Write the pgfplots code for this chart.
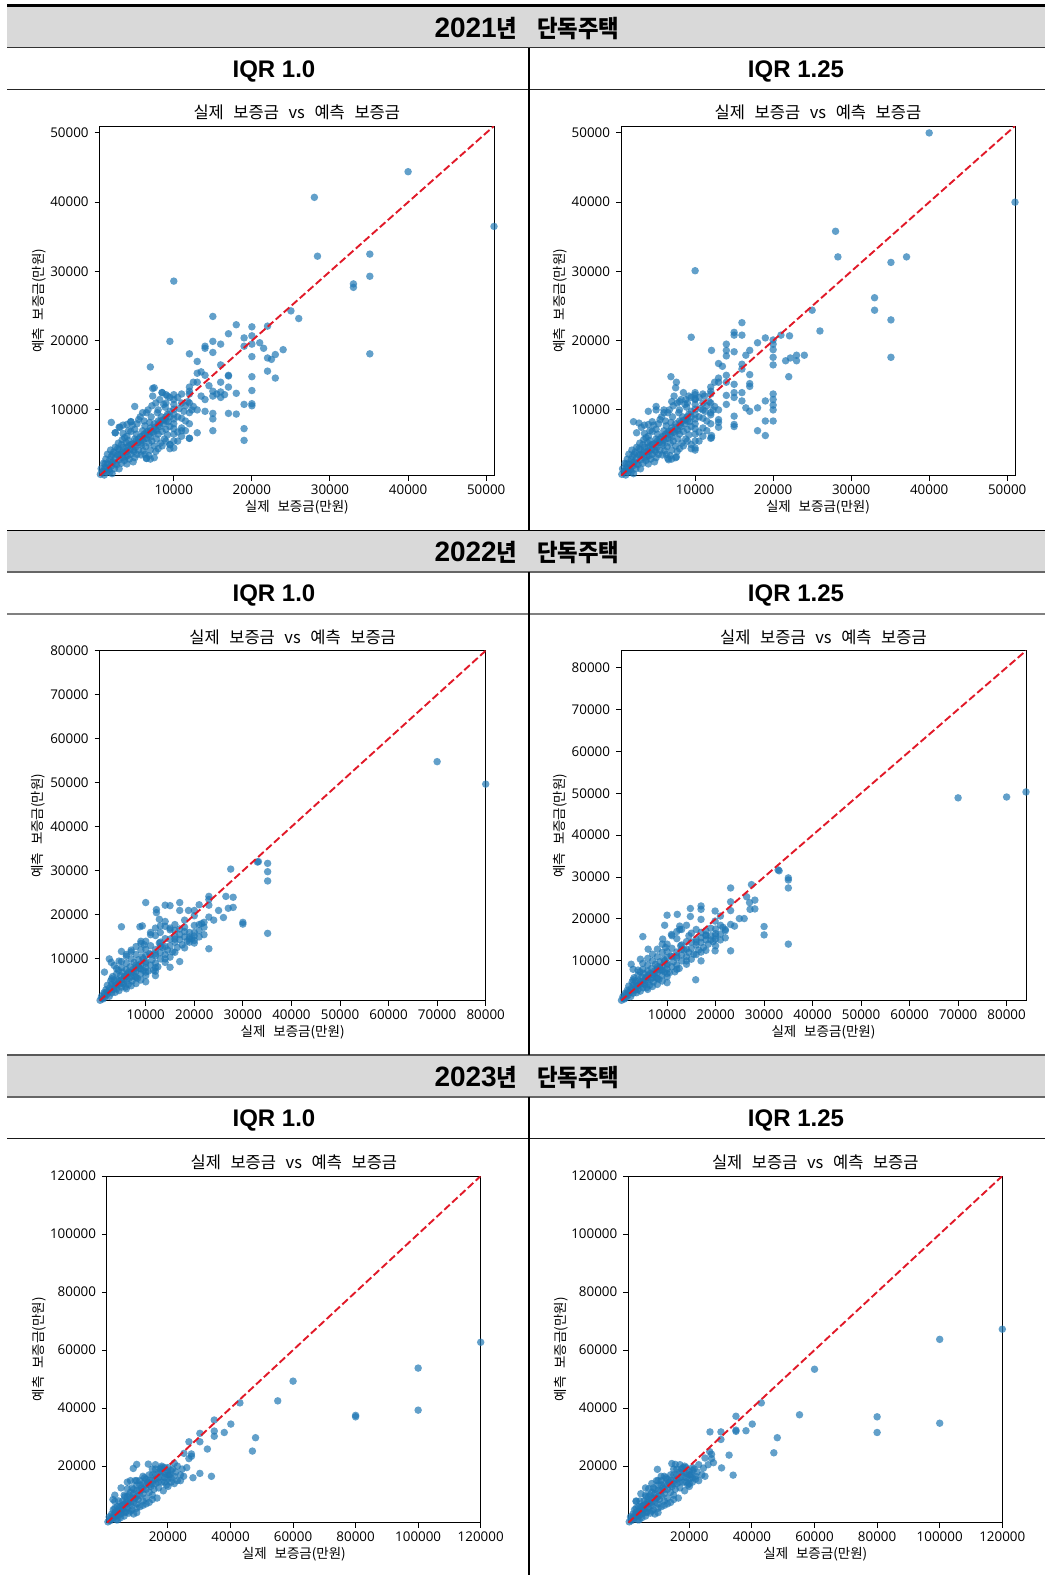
\documentclass[border=0pt]{standalone}
\usepackage{pgfplots}
\pgfplotsset{compat=1.18}
\usepackage{pgfplotstable}
\usepackage{fontspec}
\setmainfont{Open Sans}
\newfontfamily\kr{Noto Sans CJK KR}[WordSpace=2.6]
\newfontfamily\krb{Noto Sans CJK KR}[FakeStretch=0.93]
\newfontfamily\lsb{Liberation Sans}
\definecolor{mplblue}{HTML}{1F77B4}
\definecolor{diagred}{RGB}{225,25,40}
\definecolor{band}{HTML}{D9D9D9}

\pgfplotsset{
 sc/.style={
  scale only axis, clip mode=individual,
  axis line style={line width=1pt, black},
  tick align=outside, tick pos=left,
  major tick length=5pt,
  tick style={line width=1pt, black},
  scaled ticks=false,
  /pgf/number format/fixed, /pgf/number format/1000 sep={}, /pgf/number format/assume math mode=true,
  tick label style={font=\fontsize{13.4}{15}\selectfont},
  xticklabel style={anchor=base, inner sep=0pt, yshift=-13.8pt},
  yticklabel style={anchor=east, inner sep=0pt, xshift=-5.8pt},
 },
 dot/.style={only marks, mark=*, mark size=3.75pt, mark options={draw opacity=0, fill=mplblue, fill opacity=0.7}},
 diag/.style={no marks, diagred, line width=1.9pt, dash pattern=on 7.5pt off 3.2pt},
}

\newcommand{\labs}[1]{%
 \node[anchor=base, inner sep=0pt, font=\fontsize{16.5}{18}\kr] at ([yshift=7.5pt]axis description cs:0.5,1) {실제 보증금 vs 예측 보증금};%
 \node[anchor=base, inner sep=0pt, font=\fontsize{13.5}{15}\kr] at ([yshift=-36pt]axis description cs:0.5,0) {실제 보증금(만원)};%
 \node[anchor=base, inner sep=0pt, rotate=90, font=\fontsize{13.5}{15}\kr] at ([xshift=-#1pt]axis description cs:0,0.5) {예측 보증금(만원)};%
}
\newcommand{\YearHdr}[3]{\node[anchor=base, inner sep=0pt] at (#1pt,-#2pt) {\fontsize{28}{32}\selectfont\lsb\bfseries #3\fontsize{24}{28}\selectfont\krb\bfseries 년\hspace{20pt}단독주택};}
\newcommand{\IqrHdr}[3]{\node[anchor=base, inner sep=0pt] at (#1pt,-#2pt) {\fontsize{24}{28}\selectfont\lsb\bfseries #3};}

% ---------- 2021 cluster ----------
\pgfplotstableread[row sep=\\]{x y\\
600 700\\ 700 1500\\ 900 1100\\ 1000 2300\\ 1100 600\\ 1200 1700\\ 1300 2900\\ 1400 1000\\ 1500 2200\\ 1500 3600\\
1700 1400\\ 1800 2800\\ 1900 4200\\ 2000 1900\\ 2000 3300\\ 2100 800\\ 2200 2500\\ 2300 3900\\ 2400 1500\\ 2500 3000\\ 2500 4600\\ 2500 6700\\
2700 2100\\ 2800 3500\\ 2900 5200\\ 3000 1500\\ 3000 2800\\ 3000 4300\\ 3100 7500\\ 3200 3600\\ 3300 2300\\ 3400 5700\\ 3500 3100\\ 3500 4600\\ 3500 7800\\ 3500 6600\\
3700 2700\\ 3800 3900\\ 3900 5300\\ 4000 2200\\ 4000 4600\\ 4000 6200\\ 4000 7900\\ 4100 3400\\ 4200 5600\\ 4300 2900\\ 4400 4300\\ 4500 6900\\ 4500 3600\\ 4500 8300\\
4700 5100\\ 4800 2500\\ 4900 4000\\ 5000 3100\\ 5000 5800\\ 5000 7200\\ 5000 10500\\ 5100 4600\\ 5200 6500\\ 5300 3600\\ 5400 5300\\ 5500 8600\\ 5500 4200\\
5700 6100\\ 5800 3500\\ 5900 4900\\ 6000 7000\\ 6000 9600\\ 6000 5600\\ 6100 4100\\ 6200 6500\\ 6300 7700\\ 6400 4700\\ 6500 5900\\ 6500 9600\\ 6500 3000\\
6700 6900\\ 6800 5200\\ 6900 8200\\ 7000 4200\\ 7000 6100\\ 7000 7400\\ 7000 2900\\ 7100 9000\\ 7200 5500\\ 7300 12000\\ 7400 6700\\ 7500 4800\\ 7500 8000\\ 7500 13200\\ 7500 3100\\
7700 7200\\ 7800 5800\\ 7900 9600\\ 8000 4400\\ 8000 6500\\ 8000 8400\\ 8000 10000\\ 8200 7600\\ 8300 5200\\ 8400 9000\\ 8500 6900\\ 8500 12500\\
8700 8000\\ 8800 5800\\ 8900 10400\\ 9000 7200\\ 9000 9000\\ 9000 11000\\ 9200 6400\\ 9300 8300\\ 9500 4400\\ 9500 5000\\ 9500 7600\\ 9500 9800\\ 9500 11800\\
10000 4500\\ 10000 5500\\ 10000 6500\\ 10000 7300\\ 10000 8000\\ 10000 8700\\ 10000 9400\\ 10000 10100\\ 10000 10800\\ 10000 11500\\ 10000 12200\\
10500 6800\\ 10500 9000\\ 10700 10200\\ 11000 7400\\ 11000 8800\\ 11000 12300\\ 11300 9800\\ 11500 10600\\ 11500 8400\\ 11800 11200\\ 12000 5900\\ 12000 8000\\ 12000 9600\\ 12000 11000\\ 12000 12300\\ 12000 12700\\ 12300 10000\\ 12500 10500\\ 12500 14000\\
3000 3500\\ 3500 4000\\ 4000 4000\\ 4500 5000\\ 5000 5000\\ 5500 5800\\ 6000 6200\\ 6500 6800\\ 7000 7000\\ 7500 7500\\ 8000 7800\\ 8500 8500\\ 9000 8400\\ 9500 9000\\ 4200 4800\\ 5200 5600\\ 6200 5800\\ 7200 6800\\ 8200 8200\\ 9200 9400\\ 2000 2400\\ 2500 2200\\ 1500 1600\\ 1000 1200\\ 3800 3200\\ 4800 4200\\ 5800 5200\\ 6800 6400\\ 7800 7000\\ 8800 8600\\
1200 2200\\ 1800 1000\\ 2200 3600\\ 2800 4400\\ 3300 5000\\ 3700 6000\\ 4200 7000\\ 4700 7800\\ 5300 8000\\ 5700 9000\\ 6200 8400\\ 6700 10000\\ 7200 10600\\ 7700 11000\\ 8200 11500\\ 8700 10800\\ 9200 12000\\ 6300 3600\\ 6800 3400\\ 7700 4000\\ 8500 4800\\ 9000 5500\\ 10500 5500\\ 11000 6200\\ 11500 7000\\ 10500 11800\\ 11000 11000\\ 12000 13300\\
}\clA

\pgfplotstableread[row sep=\\]{x y\\
40000 44400\\ 28000 40700\\ 51000 36500\\ 28400 32200\\ 35100 32500\\ 35100 29300\\ 33000 28200\\ 33000 27700\\ 10000 28600\\ 35100 18100\\ 25000 24300\\ 26000 23200\\ 15000 23500\\ 18000 22300\\ 20000 22000\\ 22000 22100\\ 17000 21000\\ 19000 20400\\ 9500 19900\\ 15000 19900\\ 16000 19500\\ 20000 19500\\ 20000 20700\\ 14000 19200\\ 14000 18900\\ 19000 19200\\ 21000 19700\\ 21500 18900\\ 22000 17500\\ 22500 17300\\ 23000 18000\\ 24000 18700\\ 20000 17700\\ 15000 18300\\ 12000 18100\\ 7000 16200\\ 13000 17000\\ 16000 16500\\ 22000 15600\\ 23000 14600\\ 20000 14800\\ 17000 15000\\ 17000 14900\\ 18000 12400\\ 17000 13300\\ 16000 14000\\ 20000 12800\\ 19000 10800\\ 20000 10900\\ 20000 10600\\ 19000 7300\\ 19000 5600\\ 15000 7000\\ 17000 9500\\ 18000 9400\\ 13000 6700\\ 12000 5900\\ 15000 9500\\ 15000 8700\\ 14000 11500\\ 15000 12000\\ 15000 12700\\ 15500 12300\\ 16000 12600\\ 14000 15000\\ 13000 15300\\ 13500 15500\\ 13000 14000\\ 13000 10000\\ 13500 12000\\ 14000 9800\\ 16000 11800\\ 16500 12200\\ 14500 13500\\ 8500 12500\\ 7300 13100\\ 2000 8200\\ 2500 6700\\ 3000 7500\\ 4500 8300\\ 6500 3000\\ 9500 5000\\ 9000 12200\\ 11000 7000\\
}\oA

\pgfplotstableread[row sep=\\]{x y\\
40000 50000\\ 51000 40000\\ 28000 35800\\ 28300 32100\\ 35100 31300\\ 37100 32100\\ 10000 30100\\ 33000 26200\\ 33000 24400\\ 35100 23000\\ 35100 17600\\ 25000 24400\\ 26000 21400\\ 16000 22600\\ 9500 20500\\ 15000 21200\\ 15000 20800\\ 16000 20800\\ 18000 19700\\ 19000 20400\\ 20000 20100\\ 20000 19500\\ 20000 18700\\ 21000 20800\\ 22100 20700\\ 14000 19500\\ 14000 18600\\ 14000 17800\\ 12100 18600\\ 15000 18400\\ 16500 17900\\ 17000 18600\\ 20000 17600\\ 20000 16500\\ 21600 17100\\ 22200 17500\\ 23000 17100\\ 23000 17900\\ 24000 17900\\ 22000 14800\\ 6900 14800\\ 7600 14000\\ 13000 16700\\ 13500 16300\\ 16000 16600\\ 16000 15900\\ 17000 15100\\ 17000 13800\\ 17000 13400\\ 13000 14600\\ 13000 14000\\ 14000 15000\\ 14000 14000\\ 15000 13700\\ 15000 12500\\ 14000 12100\\ 14000 10800\\ 15000 11800\\ 16000 12500\\ 16000 11300\\ 18000 10300\\ 19000 11300\\ 20000 12300\\ 20000 11500\\ 20000 10700\\ 20000 10000\\ 19000 8400\\ 20000 8400\\ 18000 7000\\ 19000 6300\\ 15000 9100\\ 15000 7900\\ 15000 7600\\ 12100 6000\\ 12100 6300\\ 13000 7500\\ 17000 9800\\ 16500 10300\\ 11000 10000\\ 12000 9300\\ 13000 10000\\ 13000 8600\\ 13000 8200\\ 8000 11200\\ 7000 11200\\ 8800 11500\\ 10000 12500\\ 10000 11600\\ 11200 12000\\ 10000 4200\\ 4000 9800\\ 5000 10000\\ 6000 10000\\ 2100 8300\\ 2800 8100\\ 6600 2800\\ 7600 3200\\
}\oB

% ---------- 2022 cluster ----------
\pgfplotstableread[row sep=\\]{x y\\
600 600\\ 900 1500\\ 1200 900\\ 1400 2300\\ 1600 1300\\ 1800 3000\\ 2000 1900\\ 2100 4000\\ 2300 2500\\ 2500 1500\\ 2600 3400\\ 2800 5000\\ 3000 2300\\ 3000 4200\\ 3200 6000\\ 3400 3100\\ 3500 5200\\ 3700 2400\\ 3800 4000\\ 4000 6600\\ 4000 3200\\ 4200 5200\\ 4400 7400\\ 4500 2800\\ 4600 4400\\ 4800 6200\\ 5000 3600\\ 5000 5200\\ 5000 8000\\ 5200 7000\\ 5400 4400\\ 5600 6000\\ 5800 3600\\ 6000 5000\\ 6000 7600\\ 6000 9000\\ 6200 6600\\ 6400 4200\\ 6600 5600\\ 6800 8200\\ 7000 3900\\ 7000 6800\\ 7000 10000\\ 7200 5000\\ 7400 7600\\ 7600 9200\\ 7800 6000\\ 8000 4400\\ 8000 7200\\ 8000 8600\\ 8000 11000\\ 8300 5600\\ 8500 9800\\ 8700 7800\\ 9000 5200\\ 9000 6600\\ 9000 8900\\ 9000 12000\\ 9300 10400\\ 9500 7400\\ 9700 13200\\ 10000 4800\\ 10000 6200\\ 10000 8000\\ 10000 9400\\ 10000 10800\\ 10000 12200\\ 10000 14000\\ 10500 7200\\ 10800 11200\\ 11000 8600\\ 11000 13000\\ 11300 9800\\ 11600 7400\\ 12000 9000\\ 12000 10700\\ 12000 12100\\ 12000 15300\\ 12500 8200\\ 12800 13600\\ 13000 10000\\ 13000 11400\\ 13500 12600\\ 14000 9200\\ 14000 11000\\ 14000 14600\\ 14500 12000\\ 15000 10400\\ 15000 13000\\ 15000 16600\\ 15500 11600\\ 16000 13800\\ 16000 15200\\ 16500 12600\\ 17000 14400\\ 17000 16800\\ 17500 13200\\ 18000 15000\\ 18000 17200\\ 18500 14000\\ 19000 16000\\ 19500 14600\\ 20000 13600\\ 20000 15200\\ 20000 17600\\ 21000 16400\\ 21500 18000\\ 22000 17200\\ 22000 15500\\
2000 2500\\ 3000 3000\\ 4000 4200\\ 5000 4500\\ 6000 6000\\ 7000 6000\\ 8000 8000\\ 9000 7800\\ 10000 9000\\ 11000 11000\\ 12000 11200\\ 13000 12800\\ 14000 12800\\ 15000 14500\\ 16000 14500\\ 17000 15500\\ 18000 16200\\ 3500 3800\\ 4500 5000\\ 5500 5400\\ 6500 7000\\ 7500 7000\\ 8500 8400\\ 9500 10000\\ 1000 1000\\ 1500 2000\\
3000 5500\\ 4000 7800\\ 5000 9400\\ 6000 10600\\ 7000 11600\\ 8000 12800\\ 9000 14000\\ 11000 16000\\ 12000 17000\\ 13000 17500\\ 14000 18500\\ 6000 3200\\ 8000 5800\\ 10000 7000\\ 12000 8000\\ 14000 10000\\ 16000 11500\\ 18000 12500\\ 19000 15000\\ 20000 16000\\ 21000 15000\\ 13000 13800\\
}\clB

\pgfplotstableread[row sep=\\]{x y\\
70000 54800\\ 80000 49700\\ 33000 32000\\ 33200 32100\\ 35100 31700\\ 35100 29800\\ 35100 27700\\ 35100 15800\\ 27500 30400\\ 26500 24200\\ 28000 24000\\ 23000 24200\\ 23000 23500\\ 10000 22800\\ 14000 22200\\ 15000 22100\\ 12200 21200\\ 12200 20500\\ 17000 22800\\ 17000 21000\\ 18800 21000\\ 20000 21000\\ 21000 22300\\ 23000 22200\\ 25000 21000\\ 27000 21500\\ 28000 21700\\ 26000 19400\\ 23000 19500\\ 24000 18800\\ 20000 19800\\ 30000 18300\\ 30000 17900\\ 5000 17300\\ 8800 17300\\ 9300 17500\\ 12800 19000\\ 15000 17000\\ 16000 16500\\ 23000 12300\\ 17000 9400\\ 15000 8100\\ 12000 6200\\ 12000 7200\\ 5000 11700\\ 2900 9200\\ 2500 10000\\ 1500 7000\\ 19000 14500\\ 19000 13800\\ 20000 14200\\ 21000 17800\\ 22000 18300\\ 18000 18800\\ 16000 17800\\ 14000 17400\\ 13000 16000\\ 11000 15500\\ 9000 13500\\ 7000 12000\\ 6000 11000\\ 4500 9500\\ 3500 8500\\
}\oC

\pgfplotstableread[row sep=\\]{x y\\
70000 48900\\ 80000 49100\\ 84000 50300\\ 32900 31700\\ 33100 31500\\ 35000 29800\\ 35000 29300\\ 35000 27400\\ 35000 14000\\ 30000 18200\\ 30000 16200\\ 27400 28200\\ 23100 27400\\ 23100 24100\\ 23100 22000\\ 26400 25300\\ 27000 23900\\ 28100 24500\\ 27100 22300\\ 28100 22400\\ 24900 20100\\ 25900 20100\\ 23900 18300\\ 23100 18700\\ 21000 20700\\ 19900 19500\\ 19900 21900\\ 17000 23100\\ 17000 22300\\ 17000 19900\\ 14800 22500\\ 14800 20600\\ 12100 21100\\ 10000 20900\\ 12600 18300\\ 12600 17500\\ 10900 16300\\ 9500 18500\\ 9100 15200\\ 5000 15800\\ 19900 12400\\ 23100 12400\\ 17000 12100\\ 17000 10000\\ 15900 5500\\ 4500 10400\\ 2600 9200\\ 6100 12800\\ 3000 8000\\ 18000 16000\\ 19000 17800\\ 20000 16500\\ 21000 18500\\ 22000 17500\\ 16000 17500\\ 14500 16000\\
}\oD

% ---------- 2023 cluster ----------
\pgfplotstableread[row sep=\\]{x y\\
800 800\\ 1200 2500\\ 1500 1200\\ 2000 3500\\ 2200 1800\\ 2500 5000\\ 3000 2500\\ 3000 7800\\ 3200 4200\\ 3500 1500\\ 3800 6000\\ 4000 3000\\ 4200 8000\\ 4500 4500\\ 4800 2200\\ 5000 6200\\ 5000 3600\\ 5500 8000\\ 5500 5000\\ 6000 2800\\ 6000 6800\\ 6200 9500\\ 6500 4200\\ 7000 7800\\ 7000 5600\\ 7000 12200\\ 7500 3800\\ 7500 10000\\ 8000 6500\\ 8000 8800\\ 8500 5000\\ 8500 12500\\ 9000 7500\\ 9000 10500\\ 9000 3500\\ 9500 9000\\ 9500 15000\\ 10000 5500\\ 10000 7000\\ 10000 11500\\ 10000 13500\\ 10500 8500\\ 11000 10000\\ 11000 6000\\ 11000 15000\\ 11500 12500\\ 12000 8000\\ 12000 14000\\ 12000 10500\\ 12500 16000\\ 13000 9000\\ 13000 12000\\ 13500 14500\\ 14000 7500\\ 14000 11000\\ 14000 17000\\ 14500 13000\\ 15000 10000\\ 15000 15000\\ 15000 19000\\ 15500 12000\\ 16000 14000\\ 16000 17000\\ 16500 9000\\ 17000 12500\\ 17000 16000\\ 17500 19000\\ 18000 14500\\ 18000 18000\\ 18500 11500\\ 19000 16000\\ 19000 19500\\ 19500 13500\\ 20000 15500\\ 20000 18000\\ 20500 17000\\ 21000 14500\\ 21500 19000\\ 22000 16500\\ 22500 18000\\ 23000 15000\\ 24000 17000\\ 25000 16500\\
2000 2000\\ 3000 3500\\ 4000 4500\\ 5000 5000\\ 6000 5500\\ 7000 7000\\ 8000 7500\\ 9000 9000\\ 10000 9500\\ 11000 11500\\ 12000 12000\\ 13000 13500\\ 14000 13500\\ 15000 14000\\ 16000 15500\\ 17000 14500\\ 18000 16500\\ 19000 17500\\ 20000 17000\\ 21000 16000\\ 1500 2000\\ 2500 3000\\ 3500 3000\\ 4500 6000\\ 5500 6500\\ 6500 7500\\
6000 10000\\ 7000 9500\\ 8000 11000\\ 9000 12000\\ 10000 15000\\ 11000 13500\\ 12000 16500\\ 13000 15500\\ 14000 15000\\ 15000 17000\\ 16000 19000\\ 17000 18000\\ 18000 19500\\ 19000 14500\\ 20000 13000\\ 21000 18500\\ 8000 4500\\ 10000 4000\\ 12000 6500\\ 13000 7000\\ 15000 8500\\ 4000 1500\\ 6000 4000\\ 3000 5500\\
}\clC

\pgfplotstableread[row sep=\\]{x y\\
120000 62700\\ 100000 53800\\ 100000 39300\\ 80000 37500\\ 80000 37000\\ 60000 49300\\ 55100 42500\\ 43000 41800\\ 48000 29800\\ 47000 25200\\ 40100 34500\\ 38000 31600\\ 34800 35900\\ 34800 32100\\ 34800 30300\\ 32600 25900\\ 30200 31300\\ 30200 28400\\ 26700 28400\\ 30200 17500\\ 33900 16500\\ 26700 22600\\ 27500 23400\\ 25100 24400\\ 27500 24200\\ 24500 19000\\ 26000 19500\\ 23000 20000\\ 22000 21000\\ 20000 19500\\ 13700 20700\\ 10000 20600\\ 8900 19200\\ 2400 8500\\ 3000 10000\\ 5000 12500\\ 7000 14500\\ 8000 15000\\ 16000 20500\\ 18000 20000\\ 28000 16000\\ 22000 14000\\ 24000 15000\\
}\oE

\pgfplotstableread[row sep=\\]{x y\\
120000 67200\\ 100000 63700\\ 100000 34800\\ 80000 37000\\ 80000 31600\\ 60000 53400\\ 55200 37700\\ 43000 41800\\ 48100 29800\\ 47000 24600\\ 40100 34500\\ 38100 32200\\ 34900 37200\\ 34900 32400\\ 34900 32000\\ 32700 23800\\ 30100 31800\\ 30100 29200\\ 26600 31800\\ 30300 19400\\ 34000 16900\\ 27100 24100\\ 27100 22600\\ 27700 21200\\ 25000 22800\\ 26500 25000\\ 24500 19300\\ 23000 20500\\ 21000 19500\\ 9800 18900\\ 14400 20900\\ 15500 20600\\ 17000 20500\\ 18500 20000\\ 3000 8000\\ 4500 10500\\ 6000 12500\\ 8000 14000\\ 11000 16500\\ 20000 14000\\ 22000 15500\\ 26000 20500\\
}\oF

\begin{document}
\begin{tikzpicture}
\useasboundingbox (0,0) rectangle (1045pt,-1575pt);
% header bands
\fill[band] (7pt,-7pt) rectangle (1045pt,-47.5pt);
\fill[band] (7pt,-530.5pt) rectangle (1045pt,-571.5pt);
\fill[band] (7pt,-1055pt) rectangle (1045pt,-1096.5pt);
% horizontal rules
\draw[line width=3pt] (7pt,-5.5pt) -- (1045pt,-5.5pt);
\draw[line width=1.5pt, black!80] (7pt,-47.5pt) -- (1045pt,-47.5pt);
\draw[line width=1.5pt, black!85] (7pt,-89.5pt) -- (1045pt,-89.5pt);
\draw[line width=1pt] (7pt,-530.5pt) -- (1045pt,-530.5pt);
\draw[line width=2pt, black!60] (7pt,-571.5pt) -- (1045pt,-571.5pt);
\draw[line width=2pt, black!50] (7pt,-614pt) -- (1045pt,-614pt);
\draw[line width=2pt, black!65] (7pt,-1055pt) -- (1045pt,-1055pt);
\draw[line width=2pt, black!60] (7pt,-1096.5pt) -- (1045pt,-1096.5pt);
\draw[line width=1.5pt, black!90] (7pt,-1138.7pt) -- (1045pt,-1138.7pt);
% vertical divider
\draw[line width=1.5pt] (529pt,-47.5pt) -- (529pt,-530.5pt);
\draw[line width=1.5pt] (529pt,-571.5pt) -- (529pt,-1055pt);
\draw[line width=1.5pt] (529pt,-1096.5pt) -- (529pt,-1575pt);
% headers
\YearHdr{527}{37.2}{2021}
\YearHdr{527}{561.5}{2022}
\YearHdr{527}{1086}{2023}
\IqrHdr{274}{77}{IQR 1.0}
\IqrHdr{796}{77}{IQR 1.25}
\IqrHdr{274}{601.5}{IQR 1.0}
\IqrHdr{796}{601.5}{IQR 1.25}
\IqrHdr{274}{1126}{IQR 1.0}
\IqrHdr{796}{1126}{IQR 1.25}

% ---- 2021 IQR 1.0
\begin{axis}[sc, at={(99.6pt,-475.7pt)}, anchor=south west, width=394.4pt, height=349.7pt,
 xmin=500, xmax=51000, ymin=500, ymax=51000,
 xtick={10000,20000,30000,40000,50000}, ytick={10000,20000,30000,40000,50000},
 extra description/.code={\labs{56.5}}]
\addplot[dot] table {\clA};
\addplot[dot] table {\oA};
\addplot[diag] coordinates {(500,500) (51000,51000)};
\end{axis}
% ---- 2021 IQR 1.25
\begin{axis}[sc, at={(621pt,-475.7pt)}, anchor=south west, width=394pt, height=349.7pt,
 xmin=500, xmax=51000, ymin=500, ymax=51000,
 xtick={10000,20000,30000,40000,50000}, ytick={10000,20000,30000,40000,50000},
 extra description/.code={\labs{56.5}}]
\addplot[dot] table {\clA};
\addplot[dot] table {\oB};
\addplot[diag] coordinates {(500,500) (51000,51000)};
\end{axis}
% ---- 2022 IQR 1.0
\begin{axis}[sc, at={(99.6pt,-1000.7pt)}, anchor=south west, width=386.1pt, height=350pt,
 xmin=500, xmax=80000, ymin=500, ymax=80000,
 xtick={10000,20000,...,80000}, ytick={10000,20000,...,80000},
 extra description/.code={\labs{57}}]
\addplot[dot] table {\clB};
\addplot[dot] table {\oC};
\addplot[diag] coordinates {(500,500) (80000,80000)};
\end{axis}
% ---- 2022 IQR 1.25
\begin{axis}[sc, at={(621pt,-1000.7pt)}, anchor=south west, width=405pt, height=350pt,
 xmin=500, xmax=84000, ymin=500, ymax=84000,
 xtick={10000,20000,...,80000}, ytick={10000,20000,...,80000},
 extra description/.code={\labs{56.7}}]
\addplot[dot] table {\clB};
\addplot[dot] table {\oD};
\addplot[diag] coordinates {(500,500) (84000,84000)};
\end{axis}
% ---- 2023 IQR 1.0
\begin{axis}[sc, at={(107pt,-1522.7pt)}, anchor=south west, width=373.7pt, height=346.7pt,
 xmin=500, xmax=120000, ymin=500, ymax=120000,
 xtick={20000,40000,...,120000}, ytick={20000,40000,...,120000},
 extra description/.code={\labs{63.5}}]
\addplot[dot] table {\clC};
\addplot[dot] table {\oE};
\addplot[diag] coordinates {(500,500) (120000,120000)};
\end{axis}
% ---- 2023 IQR 1.25
\begin{axis}[sc, at={(628.3pt,-1522.7pt)}, anchor=south west, width=374pt, height=346.7pt,
 xmin=500, xmax=120000, ymin=500, ymax=120000,
 xtick={20000,40000,...,120000}, ytick={20000,40000,...,120000},
 extra description/.code={\labs{63.3}}]
\addplot[dot] table {\clC};
\addplot[dot] table {\oF};
\addplot[diag] coordinates {(500,500) (120000,120000)};
\end{axis}
\end{tikzpicture}
\end{document}
